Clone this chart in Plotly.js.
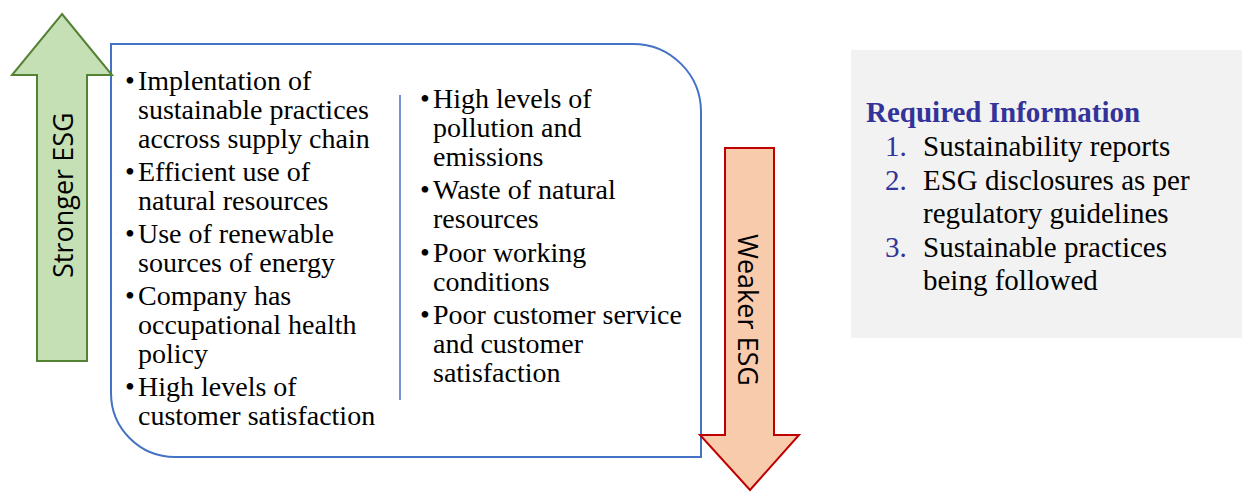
<!DOCTYPE html>
<html>
<head>
<meta charset="utf-8">
<script src="https://cdn.plot.ly/plotly-3.0.1.min.js"></script>
<style>html,body{margin:0;padding:0;background:#fff}#chart{width:1242px;height:492px}</style>
</head>
<body>
<div id="chart"></div>
<script>
// Text content of the diagram
var strongerLabel = "Stronger ESG";
var weakerLabel = "Weaker ESG";
var strongItems = [
  ["Implentation of", "sustainable practices", "accross supply chain"],
  ["Efficient use of", "natural resources"],
  ["Use of renewable", "sources of energy"],
  ["Company has", "occupational health", "policy"],
  ["High levels of", "customer satisfaction"]
];
var weakItems = [
  ["High levels of", "pollution and", "emissions"],
  ["Waste of natural", "resources"],
  ["Poor working", "conditions"],
  ["Poor customer service", "and customer", "satisfaction"]
];
var infoTitle = "Required Information";
var infoItems = [
  ["Sustainability reports"],
  ["ESG disclosures as per", "regulatory guidelines"],
  ["Sustainable practices", "being followed"]
];

var W = 1242, H = 492;
var serif = "Liberation Serif";
var sans = "Open Sans";
var blue = "#4472c4";
var navy = "#333399";

var shapes = [];
var annotations = [];

// gray info box
shapes.push({type: "rect", x0: 851, x1: 1242, y0: 50, y1: 338, fillcolor: "#f2f2f2", line: {width: 0}, layer: "below"});

// main rounded box
var k = 0.5523;
var r1 = 68, r2 = 64;
var bx0 = 111, bx1 = 701, by0 = 44, by1 = 457;
var boxPath = "M " + bx0 + " " + by0 + " L " + (bx1 - r1) + " " + by0 +
  " C " + (bx1 - r1 + r1 * k) + " " + by0 + " " + bx1 + " " + (by0 + r1 - r1 * k) + " " + bx1 + " " + (by0 + r1) +
  " L " + bx1 + " " + by1 + " L " + (bx0 + r2) + " " + by1 +
  " C " + (bx0 + r2 - r2 * k) + " " + by1 + " " + bx0 + " " + (by1 - r2 + r2 * k) + " " + bx0 + " " + (by1 - r2) + " Z";
shapes.push({type: "path", path: boxPath, line: {color: blue, width: 2}, fillcolor: "rgba(0,0,0,0)"});

// divider
shapes.push({type: "line", x0: 400, x1: 400, y0: 95, y1: 400, line: {color: blue, width: 1.5}});

// green up arrow
var gPath = "M 62 14 L 112 75 L 87 75 L 87 361 L 37 361 L 37 75 L 12 75 Z";
shapes.push({type: "path", path: gPath, fillcolor: "#c5e0b4", line: {color: "#548235", width: 2}});

// red down arrow
var rPath = "M 750 490 L 799 435 L 774 435 L 774 148 L 725 148 L 725 435 L 700 435 Z";
shapes.push({type: "path", path: rPath, fillcolor: "#f8cbad", line: {color: "#c00000", width: 2}});

function addText(x, y, txt, opts) {
  opts = opts || {};
  annotations.push({
    x: x, y: y, xref: "x", yref: "y", text: txt, showarrow: false,
    xanchor: opts.xanchor || "left", yanchor: "middle",
    textangle: opts.angle || 0,
    font: {family: opts.family || serif, size: opts.size || 28, color: opts.color || "#000000"}
  });
}

function addBullets(items, bulletX, textX, startY, lineH, gap) {
  var y = startY;
  items.forEach(function (lines) {
    addText(bulletX, y, "•", {xanchor: "center"});
    lines.forEach(function (ln) {
      addText(textX, y, ln);
      y += lineH;
    });
    y += gap;
  });
}

addBullets(strongItems, 130, 135.5, 80, 29, 4);
addBullets(weakItems, 425, 430.5, 98, 29, 4.5);

// arrow labels
addText(62, 195, strongerLabel, {xanchor: "center", angle: -90, family: sans, size: 27});
addText(749, 310, weakerLabel, {xanchor: "center", angle: 90, family: sans, size: 27});

// info box
addText(864, 112, "<b>" + infoTitle + "</b>", {color: navy, size: 29});
var iy = 146;
infoItems.forEach(function (lines, i) {
  addText(909, iy, (i + 1) + ".", {color: navy, size: 29, xanchor: "right"});
  lines.forEach(function (ln) {
    addText(921, iy, ln, {size: 29});
    iy += 33.5;
  });
});

var layout = {
  width: W, height: H,
  margin: {l: 0, r: 0, t: 0, b: 0},
  paper_bgcolor: "#ffffff", plot_bgcolor: "#ffffff",
  xaxis: {range: [0, W], visible: false, fixedrange: true},
  yaxis: {range: [H, 0], visible: false, fixedrange: true},
  shapes: shapes,
  annotations: annotations,
  showlegend: false
};

Plotly.newPlot("chart", [], layout, {displayModeBar: false, staticPlot: true});
</script>
</body>
</html>
